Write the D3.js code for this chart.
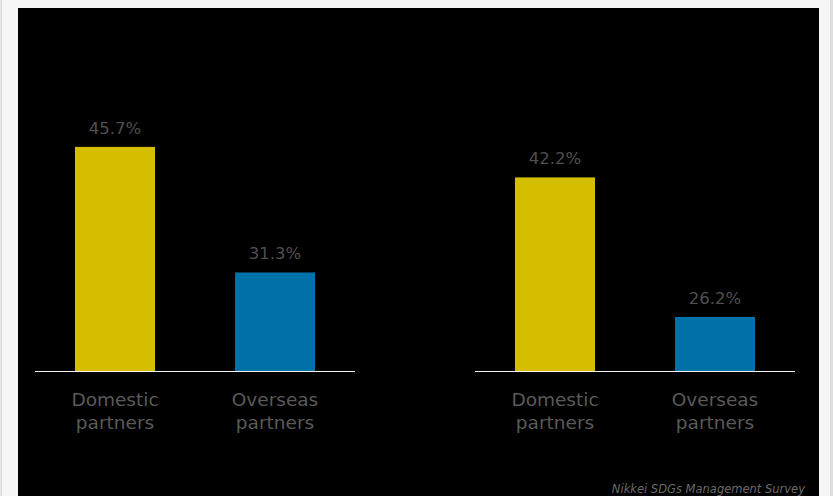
<!DOCTYPE html>
<html>
<head>
<meta charset="utf-8">
<script src="https://cdn.jsdelivr.net/npm/d3@7"></script>
<style>
  html, body { margin: 0; padding: 0; background: #f6f6f6; overflow: hidden; }
  svg { display: block; }
</style>
</head>
<body>
<svg id="chart" width="833" height="496"></svg>
<script>
const categories = ["Domestic partners", "Overseas partners"];
const panelA = [45.7, 31.3];
const panelB = [42.2, 26.2];
const panels = [panelA, panelB];
const barColors = ["#d5bd00", "#0072aa"];
const source = "Nikkei SDGs Management Survey";

const svg = d3.select("#chart");
const W = 833, H = 496;

// outer frame
svg.append("rect").attr("x", 0).attr("y", 0).attr("width", W).attr("height", H).attr("fill", "#f6f6f6");
svg.append("rect").attr("x", 0).attr("y", 0).attr("width", 1).attr("height", H).attr("fill", "#e6e6e6");
svg.append("rect").attr("x", 1).attr("y", 0).attr("width", 1).attr("height", H).attr("fill", "#dcdcdc");
svg.append("rect").attr("x", 830).attr("y", 0).attr("width", 3).attr("height", H).attr("fill", "#dedede");
svg.append("rect").attr("x", 18).attr("y", 8).attr("width", 801).attr("height", H - 8).attr("fill", "#000");

const y = d3.scaleLinear().domain([20, 50]).range([371, 109.4]);
const panelX = [35, 475];
const panelW = 320;
const font = "'DejaVu Sans', Verdana, sans-serif";

panels.forEach((vals, pi) => {
  const x = d3.scaleBand().domain(categories).range([panelX[pi], panelX[pi] + panelW]).paddingInner(0.5).paddingOuter(0.25);
  const g = svg.append("g");
  g.selectAll("rect.bar").data(vals).join("rect")
    .attr("class", "bar")
    .attr("x", (d, i) => x(categories[i]))
    .attr("width", x.bandwidth())
    .attr("y", d => y(d))
    .attr("height", d => y.range()[0] - y(d))
    .attr("fill", (d, i) => barColors[i]);
  g.selectAll("text.val").data(vals).join("text")
    .attr("class", "val")
    .attr("x", (d, i) => x(categories[i]) + x.bandwidth() / 2)
    .attr("y", d => y(d) - 13)
    .attr("text-anchor", "middle")
    .attr("font-family", font)
    .attr("font-size", 16.5)
    .attr("fill", "#4f4f4f")
    .text(d => d.toFixed(1) + "%");
  // baseline axis
  const axis = d3.axisBottom(x).tickSize(0).tickFormat("");
  const ag = g.append("g").attr("transform", "translate(0,371.5)").call(axis);
  ag.select(".domain").attr("stroke", "#f2f2f2").attr("stroke-width", 1)
    .attr("d", `M${panelX[pi]},0H${panelX[pi] + panelW}`);
  categories.forEach((c, i) => {
    const words = c.split(" ");
    const t = g.append("text")
      .attr("x", x(c) + x.bandwidth() / 2)
      .attr("y", 405.5)
      .attr("text-anchor", "middle")
      .attr("font-family", font)
      .attr("font-size", 18.5)
      .attr("fill", "#595959");
    words.forEach((w, wi) => {
      t.append("tspan").attr("x", x(c) + x.bandwidth() / 2).attr("dy", wi === 0 ? 0 : 23).text(w);
    });
  });
});

svg.append("text")
  .attr("x", 805).attr("y", 493)
  .attr("text-anchor", "end")
  .attr("font-family", font)
  .attr("font-style", "italic")
  .attr("font-size", 11.5)
  .attr("fill", "#6a6a6a")
  .text(source);
</script>
</body>
</html>
